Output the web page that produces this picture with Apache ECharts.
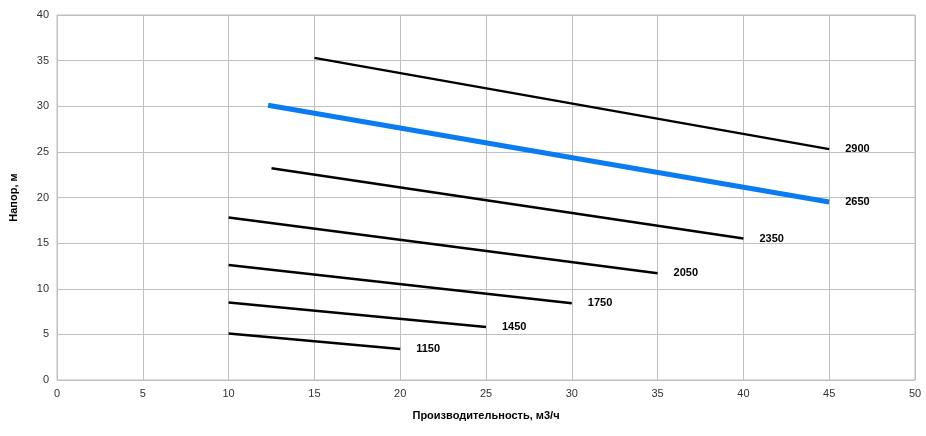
<!DOCTYPE html>
<html><head><meta charset="utf-8">
<script src="https://cdn.jsdelivr.net/npm/echarts@6/dist/echarts.min.js"></script>
<style>html,body{margin:0;background:#fff}#c{width:926px;height:436px}</style>
</head><body><div id="c"></div>
<script>
const speeds = ['2900','2650','2350','2050','1750','1450','1150'];
const starts = [[15,35.3],[12.3,30.1],[12.5,23.2],[10,17.8],[10,12.6],[10,8.5],[10,5.1]];
const ends = [[45,25.3],[45,19.5],[40,15.5],[35,11.7],[30,8.4],[25,5.8],[20,3.4]];
const xTicks = [0,5,10,15,20,25,30,35,40,45,50];
const yTicks = [0,5,10,15,20,25,30,35,40];
const chart = echarts.init(document.getElementById('c'));
chart.setOption({
  animation:false,
  grid:{left:52,right:11,top:15,bottom:56,show:true,borderColor:'#bfbfbf',borderWidth:1},
  xAxis:{type:'value',min:xTicks[0],max:xTicks[xTicks.length-1],interval:5,
    name:'Производительность, м3/ч',nameLocation:'middle',nameGap:30,
    nameTextStyle:{fontWeight:'bold',fontSize:11,color:'#000',fontFamily:'Liberation Sans'},
    axisLine:{show:false},axisTick:{show:false},
    axisLabel:{color:'#333',fontSize:11,fontFamily:'Liberation Sans'},
    splitLine:{lineStyle:{color:'#bfbfbf'}}},
  yAxis:{type:'value',min:yTicks[0],max:yTicks[yTicks.length-1],interval:5,
    name:'Напор, м',nameLocation:'middle',nameGap:38,
    nameTextStyle:{fontWeight:'bold',fontSize:11,color:'#000',fontFamily:'Liberation Sans'},
    axisLine:{show:false},axisTick:{show:false},
    axisLabel:{color:'#333',fontSize:11,fontFamily:'Liberation Sans'},
    splitLine:{lineStyle:{color:'#bfbfbf'}}},
  series:speeds.map((s,i)=>({
    type:'line',symbol:'none',
    data:[starts[i],ends[i]],
    lineStyle:{color:s==='2650'?'#0a7cf0':'#000',width:s==='2650'?5:2.5},
    endLabel:{show:true,formatter:s,fontWeight:'bold',fontSize:11,color:'#000',
      offset:[8,0],fontFamily:'Liberation Sans'}
  }))
});
</script></body></html>
